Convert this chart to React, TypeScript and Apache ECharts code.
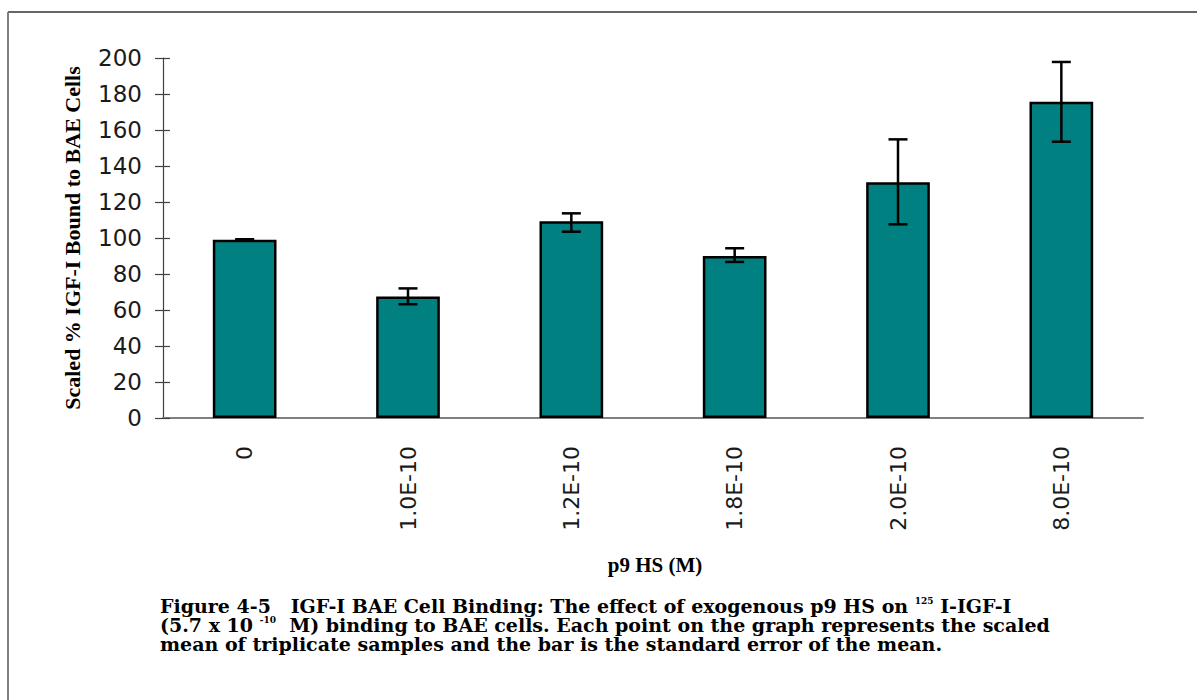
import React, { useEffect, useRef } from "react";
import * as echarts from "echarts";

const categories = ["0", "1.0E-10", "1.2E-10", "1.8E-10", "2.0E-10", "8.0E-10"];
const means = [99, 67.5, 109.3, 90, 131, 175.7];
const errLow = [98.7, 63.2, 103.5, 86.7, 107.6, 153.5];
const errHigh = [99.3, 72, 113.7, 94.3, 154.8, 197.8];
const yTicks = { min: 0, max: 200, interval: 20 };

const captionLines = [
  "{a|Figure 4-5   IGF-I BAE Cell Binding: The effect of exogenous p9 HS on }{s|125}{a| I-IGF-I}",
  "{a|(5.7 x 10 }{s|-10}{a|  M) binding to BAE cells. Each point on the graph represents the scaled}",
  "{a|mean of triplicate samples and the bar is the standard error of the mean.}",
];

export default function App() {
  const ref = useRef<HTMLDivElement>(null);
  useEffect(() => {
    document.body.style.margin = "0";
    const chart = echarts.init(ref.current!, null, { renderer: "svg" });
    const errData = categories.map((_, i) => [i, errLow[i], errHigh[i]]);
    const yCommon = {
      type: "value",
      min: yTicks.min,
      max: yTicks.max,
      interval: yTicks.interval,
      splitLine: { show: false },
    };
    const capFont = "DejaVu Serif";
    const captionGraphics = captionLines.map((t, i) => ({
      type: "text",
      x: 160,
      y: 596 + i * 19,
      style: {
        text: t,
        fill: "#000",
        rich: {
          a: { fontFamily: capFont, fontWeight: "bold", fontSize: 19, lineHeight: 19, fill: "#000" },
          s: {
            fontFamily: capFont,
            fontWeight: "bold",
            fontSize: 9,
            lineHeight: 12,
            verticalAlign: "top",
            fill: "#000",
          },
        },
      },
    }));
    chart.setOption({
      animation: false,
      backgroundColor: "#ffffff",
      grid: { left: 163, right: 54, top: 58, bottom: 282, containLabel: false },
      xAxis: {
        type: "category",
        data: categories,
        axisLine: { show: true, lineStyle: { color: "#808080", width: 2 } },
        axisTick: { show: false },
        axisLabel: {
          rotate: 90,
          margin: 28,
          fontFamily: "DejaVu Sans",
          fontSize: 22,
          color: "#1a1a1a",
        },
      },
      yAxis: [
        {
          ...yCommon,
          axisLine: { show: true, lineStyle: { color: "#404040", width: 1.2 } },
          axisTick: { show: true, length: 8, lineStyle: { color: "#404040", width: 1.2 } },
          axisLabel: {
            margin: 21,
            fontFamily: "DejaVu Sans",
            fontSize: 23,
            color: "#1a1a1a",
          },
          name: "Scaled % IGF-I Bound to BAE Cells",
          nameLocation: "middle",
          nameGap: 91,
          nameTextStyle: {
            fontFamily: "Liberation Serif",
            fontWeight: "bold",
            fontSize: 22,
            color: "#000",
            verticalAlign: "middle",
          },
        },
        {
          ...yCommon,
          position: "left",
          axisLine: { show: false },
          axisTick: { show: true, inside: true, length: 7, lineStyle: { color: "#404040", width: 1.2 } },
          axisLabel: { show: false },
        },
      ],
      series: [
        {
          type: "bar",
          data: means,
          barWidth: "39%",
          itemStyle: { color: "#008080", borderColor: "#000", borderWidth: 2.5 },
          z: 2,
        },
        {
          type: "custom",
          data: errData,
          z: 5,
          renderItem: (params: any, api: any) => {
            const x = api.value(0);
            const lo = api.coord([x, api.value(1)]);
            const hi = api.coord([x, api.value(2)]);
            const hw = 9.5;
            const style = { stroke: "#000", lineWidth: 2.5 };
            return {
              type: "group",
              children: [
                { type: "line", shape: { x1: hi[0], y1: hi[1], x2: lo[0], y2: lo[1] }, style },
                { type: "line", shape: { x1: hi[0] - hw, y1: hi[1], x2: hi[0] + hw, y2: hi[1] }, style },
                { type: "line", shape: { x1: lo[0] - hw, y1: lo[1], x2: lo[0] + hw, y2: lo[1] }, style },
              ],
            };
          },
        },
      ],
      graphic: [
        { type: "line", shape: { x1: 8, y1: 12, x2: 1197, y2: 12 }, style: { stroke: "#333", lineWidth: 1.5 } },
        { type: "line", shape: { x1: 8, y1: 12, x2: 8, y2: 700 }, style: { stroke: "#808080", lineWidth: 2 } },
        {
          type: "text",
          x: 655,
          y: 565,
          style: {
            text: "p9 HS (M)",
            fontFamily: "Liberation Serif",
            fontWeight: "bold",
            fontSize: 21,
            fill: "#000",
            align: "center",
            verticalAlign: "middle",
          },
        },
        ...captionGraphics,
      ],
    });
    return () => chart.dispose();
  }, []);
  return <div ref={ref} style={{ width: 1197, height: 700 }} />;
}
